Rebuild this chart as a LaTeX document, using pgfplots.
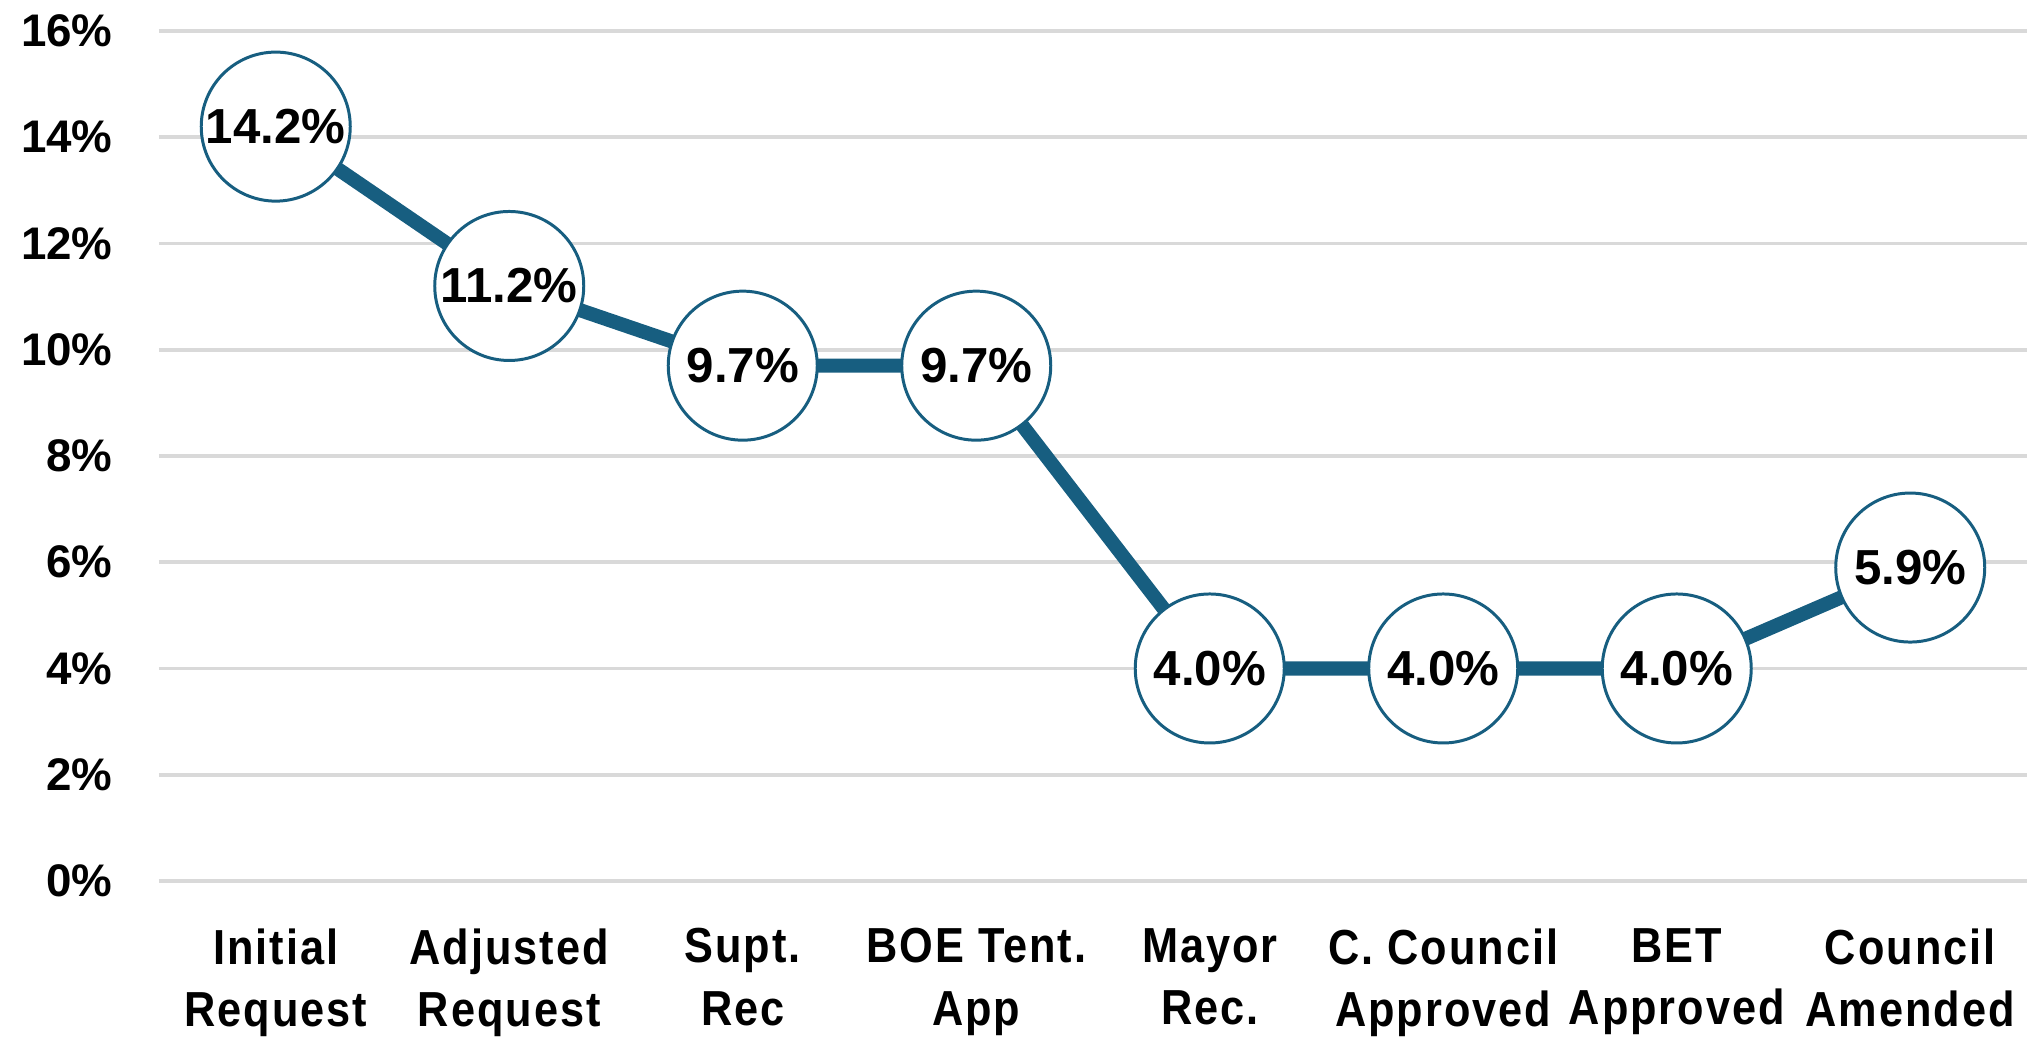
\documentclass[border=0pt]{standalone}
\usepackage{pgfplots}
\pgfplotsset{compat=1.18}
\usepackage{fontspec}
\setmainfont{Liberation Sans}
\newfontfamily\narrowfont{Liberation Sans}[FakeStretch=0.88, LetterSpace=4]
\definecolor{linec}{RGB}{23,94,128}
\definecolor{gridc}{RGB}{217,217,217}
\begin{document}
\begin{tikzpicture}
\useasboundingbox (0,0) rectangle (203.1mm,104mm);
\begin{axis}[
  scale only axis,
  width=186.8mm, height=85mm,
  at={(15.9mm,15.9mm)}, anchor=south west,
  xmin=-0.5, xmax=7.5, ymin=0, ymax=16,
  axis line style={draw=none},
  major tick length=0pt,
  xtick={0,...,7},
  xticklabels={{Initial\\Request},{Adjusted\\Request},{Supt.\\Rec},{BOE Tent.\\App},{Mayor\\Rec.},{C. Council\\Approved},{BET\\Approved},{Council\\Amended}},
  xticklabel style={align=center, font=\narrowfont\bfseries\fontsize{14}{17.8}\selectfont, yshift=-3.5mm},
  ytick={0,2,...,16},
  yticklabel={\pgfmathprintnumber{\tick}\%},
  yticklabel style={font=\bfseries\fontsize{13}{15}\selectfont, xshift=-3.4mm},
  /pgf/number format/assume math mode=true,
  ymajorgrids,
  grid style={gridc, line width=1.1pt},
  clip=false,
  nodes near coords={\pgfmathprintnumber[fixed,fixed zerofill,precision=1]{\pgfplotspointmeta}\%},
  every node near coord/.append style={anchor=center, font=\bfseries\fontsize{14}{16}\selectfont, text=black},
]
\addplot[color=linec, line width=4pt, mark=*, mark size=21.2pt,
  mark options={fill=white, draw=linec, line width=0.85pt}]
  coordinates {(0,14.2) (1,11.2) (2,9.7) (3,9.7) (4,4.0) (5,4.0) (6,4.0) (7,5.9)};
\end{axis}
\end{tikzpicture}
\end{document}
